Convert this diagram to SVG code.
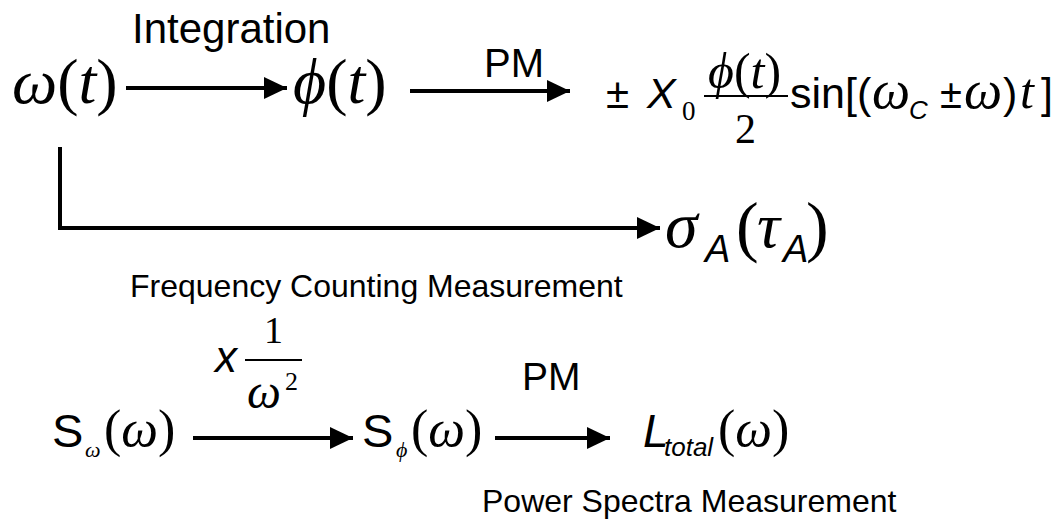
<svg xmlns="http://www.w3.org/2000/svg" width="1063" height="522" viewBox="0 0 1063 522">
<style>
.sans{font-family:"Liberation Sans",Arial,sans-serif;fill:#000}
.serif{font-family:"Liberation Serif","Times New Roman",serif;fill:#000}
.it{font-style:italic}
.conn{stroke:#000;stroke-width:4;fill:none}
.bar{stroke:#000;stroke-width:2}
</style>
<defs>
<marker id="arr" markerUnits="userSpaceOnUse" markerWidth="23" markerHeight="22" refX="23" refY="11" orient="auto">
<path d="M0,0 L23,11 L0,22 Z" fill="#000"/>
</marker>
</defs>
<rect width="1063" height="522" fill="#fff"/>

<g id="connectors">
<line class="conn" x1="126" y1="88" x2="287" y2="88" marker-end="url(#arr)"/>
<line class="conn" x1="410" y1="91" x2="570" y2="91" marker-end="url(#arr)"/>
<polyline class="conn" points="60,147 60,228 660,228" marker-end="url(#arr)"/>
<line class="conn" x1="193" y1="438" x2="353" y2="438" marker-end="url(#arr)"/>
<line class="conn" x1="495" y1="438" x2="610" y2="438" marker-end="url(#arr)"/>
</g>

<g id="label-integration"><text class="sans" x="132" y="43" font-size="42">Integration</text></g>
<g id="label-pm-top"><text class="sans" x="484" y="77" font-size="40">PM</text></g>

<g id="n-omega-t">
<text class="serif" x="12" y="103" font-size="64"><tspan class="it">ω</tspan>(<tspan class="it">t</tspan>)</text>
</g>

<g id="n-phi-t">
<text class="serif" x="293" y="103" font-size="64"><tspan class="it">ϕ</tspan>(<tspan class="it">t</tspan>)</text>
</g>

<g id="n-signal">
<text class="sans" x="606" y="108" font-size="42">±</text>
<text class="sans it" x="647" y="108" font-size="43">X</text>
<text class="serif" x="682" y="120" font-size="27">0</text>
<text class="serif" x="708" y="88" font-size="50"><tspan class="it">ϕ</tspan>(<tspan class="it">t</tspan>)</text>
<line class="bar" x1="704" y1="96" x2="788" y2="96"/>
<text class="serif" x="735" y="143" font-size="42">2</text>
<text class="sans" x="790" y="108" font-size="43">sin[(</text>
<text class="serif it" x="872" y="108" font-size="54">ω</text>
<text class="sans it" x="909" y="119" font-size="26">C</text>
<text class="sans" x="940" y="108" font-size="40">±</text>
<text class="serif it" x="964" y="108" font-size="54">ω</text>
<text class="sans" x="1003" y="108" font-size="43">)</text>
<text class="serif it" x="1020" y="108" font-size="50">t</text>
<text class="sans" x="1041" y="108" font-size="43">]</text>
</g>

<g id="n-allan">
<text class="serif it" x="665" y="247" font-size="66">σ</text>
<text class="sans it" x="705" y="262" font-size="38">A</text>
<text class="serif" x="736" y="249" font-size="68">(</text>
<text class="serif it" x="757" y="247" font-size="64">τ</text>
<text class="sans it" x="783" y="262" font-size="38">A</text>
<text class="serif" x="806" y="249" font-size="68">)</text>
</g>

<g id="label-freq"><text class="sans" x="130" y="297" font-size="32">Frequency Counting Measurement</text></g>

<g id="label-mult">
<text class="sans it" x="215" y="372" font-size="44">x</text>
<text class="serif" x="264" y="343" font-size="38">1</text>
<line class="bar" x1="245" y1="360" x2="302" y2="360"/>
<text class="serif it" x="247" y="408" font-size="48">ω</text>
<text class="serif" x="285" y="390" font-size="26">2</text>
</g>

<g id="label-pm-bottom"><text class="sans" x="522" y="390" font-size="39">PM</text></g>

<g id="n-s-omega">
<text class="sans" x="52" y="447" font-size="47">S</text>
<text class="serif it" x="85" y="457" font-size="22">ω</text>
<text class="serif" x="104" y="446" font-size="52">(<tspan class="it">ω</tspan>)</text>
</g>

<g id="n-s-phi">
<text class="sans" x="362" y="447" font-size="47">S</text>
<text class="serif it" x="396" y="457" font-size="22">ϕ</text>
<text class="serif" x="411" y="446" font-size="52">(<tspan class="it">ω</tspan>)</text>
</g>

<g id="n-l-total">
<text class="sans it" x="643" y="447" font-size="46">L</text>
<text class="sans it" x="664" y="456" font-size="26">total</text>
<text class="serif" x="718" y="446" font-size="52">(<tspan class="it">ω</tspan>)</text>
</g>

<g id="label-power"><text class="sans" x="482" y="512" font-size="32">Power Spectra Measurement</text></g>
</svg>
